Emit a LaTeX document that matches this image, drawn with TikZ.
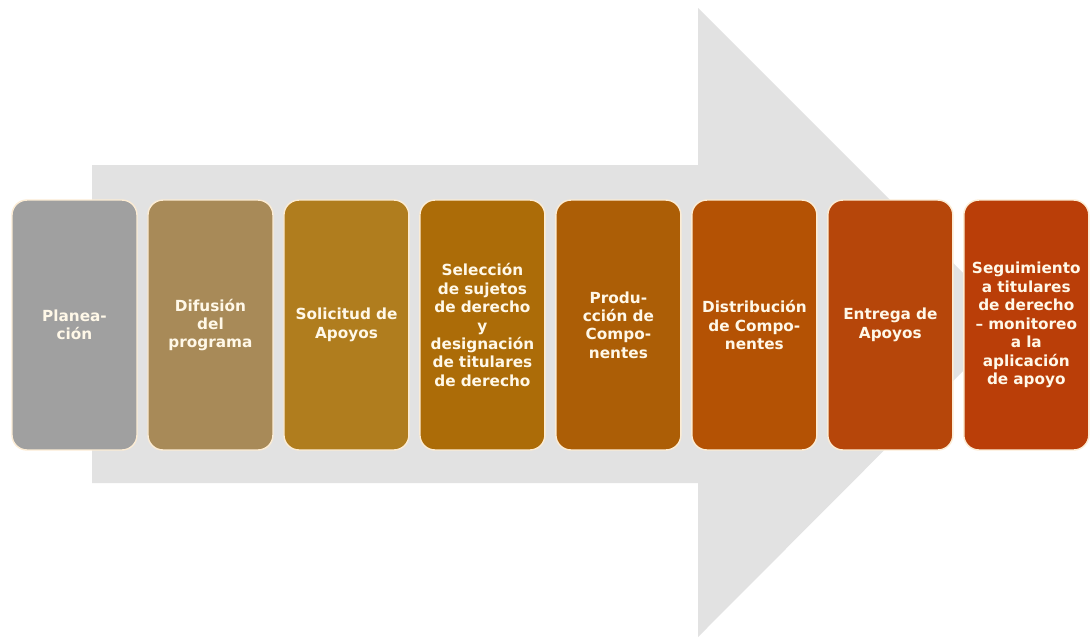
\documentclass[tikz,border=0pt]{standalone}
\usepackage{fontspec}
\setmainfont{DejaVu Sans}
\usetikzlibrary{positioning}
\definecolor{flecha}{RGB}{226,226,226}
\definecolor{borde}{RGB}{252,236,212}
\definecolor{texto}{RGB}{255,248,232}
\definecolor{cplan}{RGB}{160,160,160}
\definecolor{cdifus}{RGB}{168,138,88}
\definecolor{csolic}{RGB}{176,125,30}
\definecolor{cselec}{RGB}{172,108,8}
\definecolor{cprodu}{RGB}{172,94,6}
\definecolor{cdistr}{RGB}{180,82,4}
\definecolor{centre}{RGB}{182,70,10}
\definecolor{csegui}{RGB}{186,62,8}

\begin{document}
\begin{tikzpicture}[x=0.02cm,y=-0.02cm,
  paso/.style={rectangle, rounded corners=0.3cm, draw=borde, line width=0.8pt,
    minimum width=2.5cm, minimum height=5cm, inner sep=0pt, outer sep=0pt,
    text width=2.46cm, align=center, text=texto,
    font=\bfseries\fontsize{8.7}{10.5}\selectfont}]
			% marco
			\useasboundingbox[fill=white] (0,0) rectangle (1091,637);
			% flecha de fondo
			\fill[flecha] (92,165) -- (698,165) -- (698,8) -- (1012,322)
			  -- (698,637) -- (698,483) -- (92,483) -- cycle;
			% pasos
			\node[paso, fill=cplan] (plan) at (74.5,325) {Planea-\\ción};
			\node[paso, fill=cdifus, right=0.22cm of plan] (difus) {Difusión\\del\\programa};
			\node[paso, fill=csolic, right=0.22cm of difus] (solic) {Solicitud de\\Apoyos};
			\node[paso, fill=cselec, right=0.22cm of solic] (selec) {Selección\\de sujetos\\de derecho\\y\\designación\\de titulares\\de derecho};
			\node[paso, fill=cprodu, right=0.22cm of selec] (produ) {Produ-\\cción de\\Compo-\\nentes};
			\node[paso, fill=cdistr, right=0.22cm of produ] (distr) {Distribución\\de Compo-\\nentes};
			\node[paso, fill=centre, right=0.22cm of distr] (entre) {Entrega de\\Apoyos};
			\node[paso, fill=csegui, right=0.22cm of entre] (segui) {Seguimiento\\a titulares\\de derecho\\– monitoreo\\a la\\aplicación\\de apoyo};
		\end{tikzpicture}
\end{document}
